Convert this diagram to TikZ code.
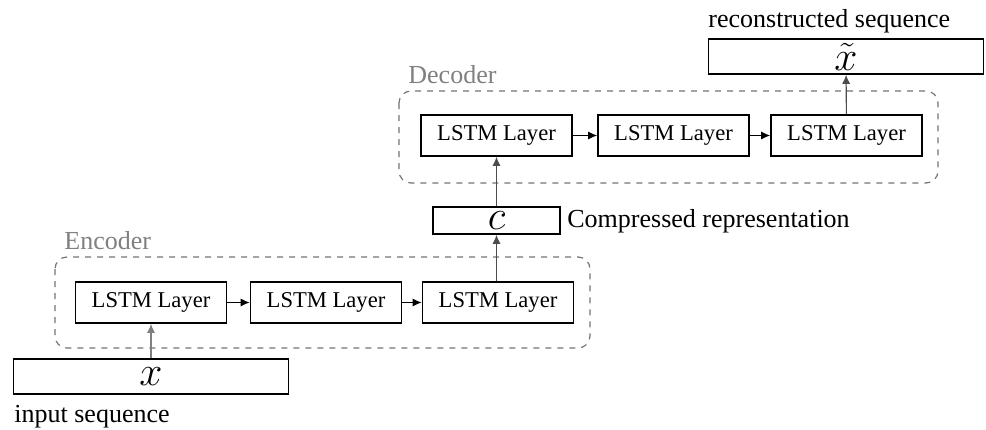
\documentclass[tikz,border=0pt]{standalone}
\usepackage{fontspec}
\setmainfont{Liberation Serif}
\usetikzlibrary{arrows.meta}

\begin{document}
\begin{tikzpicture}[x=0.5pt,y=-0.5pt,
  layer/.style={draw=black,line width=0.8pt,inner sep=0pt,minimum width=75.5pt,minimum height=20.5pt,font=\fontsize{11.3}{13}\selectfont},
  seqbox/.style={draw=black,line width=0.8pt,inner sep=0pt,minimum width=137.5pt,minimum height=17.5pt,font=\fontsize{21}{21}\selectfont},
  codebox/.style={draw=black,line width=0.8pt,inner sep=0pt,minimum width=63.5pt,minimum height=13.5pt,font=\fontsize{20}{20}\selectfont},
  group/.style={draw=black!55,dashed,line width=0.6pt,rounded corners=6pt},
  grouplabel/.style={text=black!50,font=\fontsize{13}{15}\selectfont,inner sep=0pt,anchor=base west},
  caption/.style={font=\fontsize{13}{15}\selectfont,inner sep=0pt},
  flow/.style={-{Latex[length=4.5pt,width=4pt]},line width=0.55pt},
  upflow/.style={flow,draw=black!70,fill=black!70}]
\useasboundingbox (0,0) rectangle (986,429);
% encoder
\draw [group] (55,257) rectangle (590,348);
\node [grouplabel] (enclabel) at (64,249) {Encoder};
\node [layer] (enc1) at (151,302.5) {LSTM Layer};
\node [layer] (enc2) at (326,302.5) {LSTM Layer};
\node [layer] (enc3) at (498,302.5) {LSTM Layer};
\draw [flow] (enc1) -- (enc2);
\draw [flow] (enc2) -- (enc3);
% input
\node [seqbox] (input) at (151,376.5) {$x$};
\node [caption,anchor=base west] (inlabel) at (14,422) {input sequence};
\draw [upflow,draw=black!50,fill=black!50] (input) -- (enc1);
% code
\node [codebox] (code) at (496.5,220.5) {$c$};
\node [caption,anchor=west] (codelabel) at (567,221) {Compressed representation};
\draw [upflow] (enc3.north -| code) -- (code);
% decoder
\draw [group] (399,91) rectangle (938,183);
\node [grouplabel] (declabel) at (408,83) {Decoder};
\node [layer] (dec1) at (496.5,135.5) {LSTM Layer};
\node [layer] (dec2) at (673.5,135.5) {LSTM Layer};
\node [layer] (dec3) at (846.5,135.5) {LSTM Layer};
\draw [upflow] (code) -- (dec1);
\draw [flow] (dec1) -- (dec2);
\draw [flow] (dec2) -- (dec3);
% output
\node [seqbox] (output) at (846,56.5) {$\tilde{x}$};
\node [caption,anchor=base west] (outlabel) at (708,27) {reconstructed sequence};
\draw [upflow] (dec3) -- (output);
\end{tikzpicture}
\end{document}
